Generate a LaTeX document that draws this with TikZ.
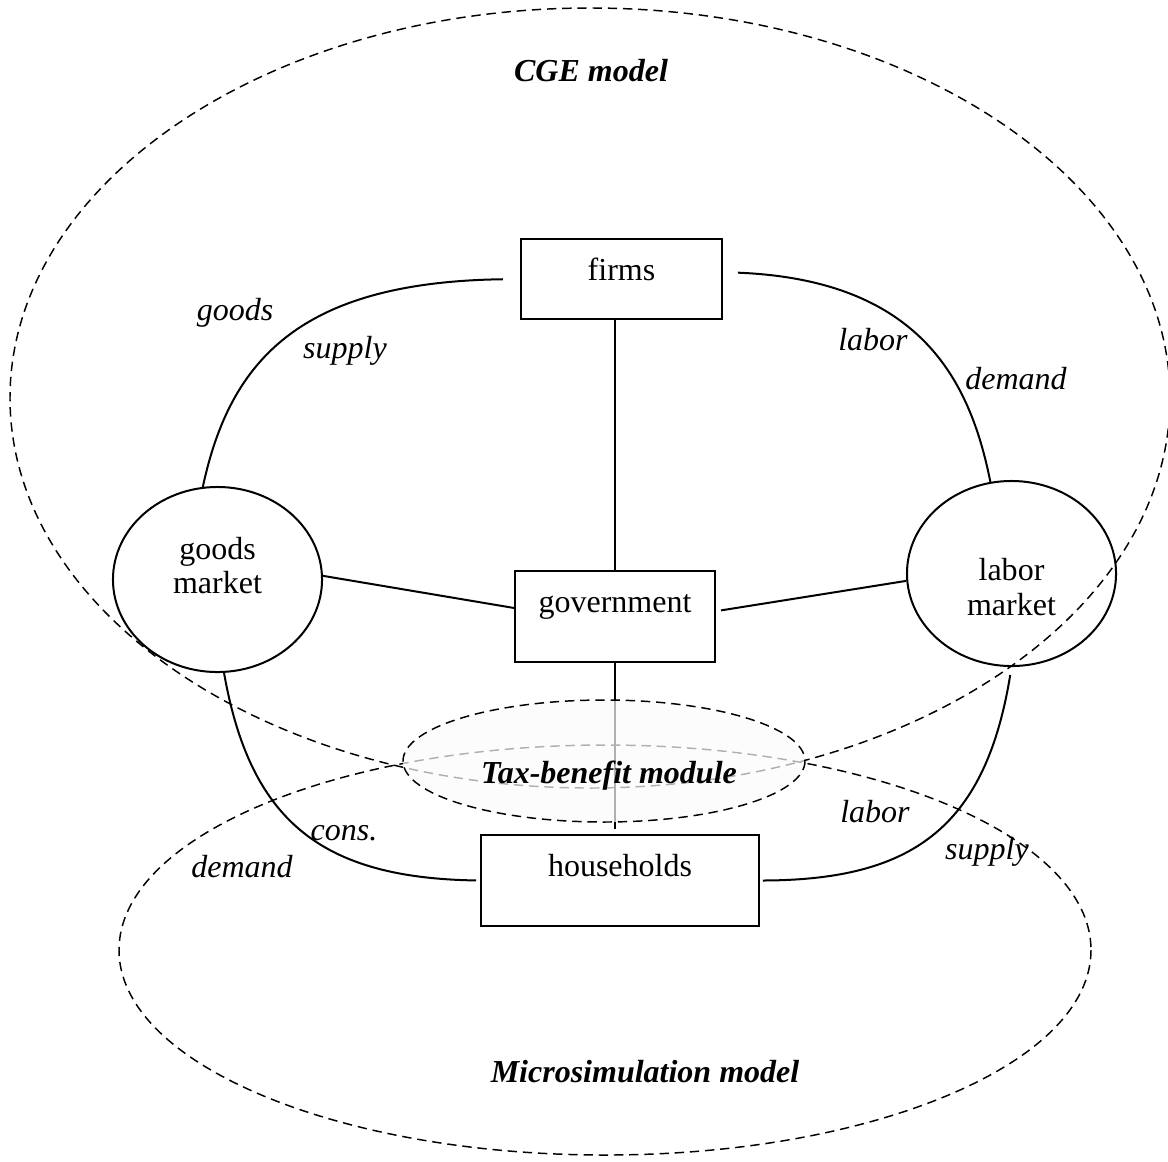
\documentclass[tikz,border=0pt]{standalone}
\usepackage{fontspec}
\setmainfont{Liberation Serif}
\usetikzlibrary{shapes.geometric}

\tikzset{
  box/.style={draw, line width=0.75pt, inner sep=0pt, text height=15.4pt},
  market/.style={draw, ellipse, line width=0.75pt, inner sep=0pt, minimum width=78.4pt, minimum height=69.4pt},
  link/.style={line width=0.75pt},
  border/.style={dash pattern=on 3.5pt off 2.2pt, line width=0.55pt},
  flow/.style={font=\fontsize{12}{13}\selectfont\itshape, anchor=base},
  model/.style={font=\fontsize{12}{13}\selectfont\bfseries\itshape, anchor=base}
}

\begin{document}
\begin{tikzpicture}[x=0.375pt, y=-0.375pt, font=\fontsize{12}{13}\selectfont]
	\useasboundingbox (0,0) rectangle (1168,1161);
	\draw[border] (590,398) ellipse [x radius=580, y radius=390];
	\draw[border] (605,950) ellipse [x radius=486, y radius=205];

	\node[box, minimum width=75.4pt, text depth=14.6pt] (firms) at (621.5,279) {firms};
	\node[box, minimum width=75pt, text depth=18.75pt] (gov) at (615,616.5) {government};
	\node[box, minimum width=104.25pt, text depth=18.75pt] (hh) at (620,880.5) {households};
	\node[market, label={[align=center, yshift=5.2pt]center:{goods\\market}}] (gm) at (217.5,579.5) {};
	\node[market, label={[align=center, yshift=-5.2pt]center:{labor\\market}}] (lm) at (1011.5,573.5) {};

	\draw[link, shorten <=6.4pt] (firms.west) .. controls (300,282) and (230,360) .. (gm.99);
	\draw[link, shorten <=5.6pt] ([yshift=2.6pt]firms.east) .. controls (920,280) and (970,380) .. (lm.103);
	\draw[link] (gm.2) -- ([yshift=3.2pt]gov.west);
	\draw[link, shorten <=1.9pt] ([yshift=2pt]gov.east) -- (lm.184);
	\draw[link] (gov.north) -- (gov.north |- firms.south);
	\draw[link, shorten >=1.9pt] (gov.south) -- (gov.south |- hh.north);
	\draw[link, shorten >=1.5pt] (gm.274) .. controls (250,820) and (320,878) .. (hh.west);
	\draw[link, shorten <=3pt, shorten >=1.1pt] (lm.south) .. controls (985,830) and (910,880) .. (hh.east);

	\draw[border, fill=gray!3, fill opacity=0.7] (604,761) ellipse [x radius=201, y radius=61];

	\node[model] (cge) at (591,81) {CGE model};
	\node[model] (tax) at (609,783) {Tax-benefit module};
	\node[model] (micro) at (645,1082) {Microsimulation model};
	\node[flow] (gsgoods) at (235,320) {goods};
	\node[flow] (gssupply) at (345,358) {supply};
	\node[flow] (ldlabor) at (873,350) {labor};
	\node[flow] (lddemand) at (1016,389) {demand};
	\node[flow] (cdcons) at (344,840) {cons.};
	\node[flow] (cddemand) at (242,877) {demand};
	\node[flow] (lslabor) at (875,822) {labor};
	\node[flow] (lssupply) at (987,859) {supply};
\end{tikzpicture}
\end{document}
